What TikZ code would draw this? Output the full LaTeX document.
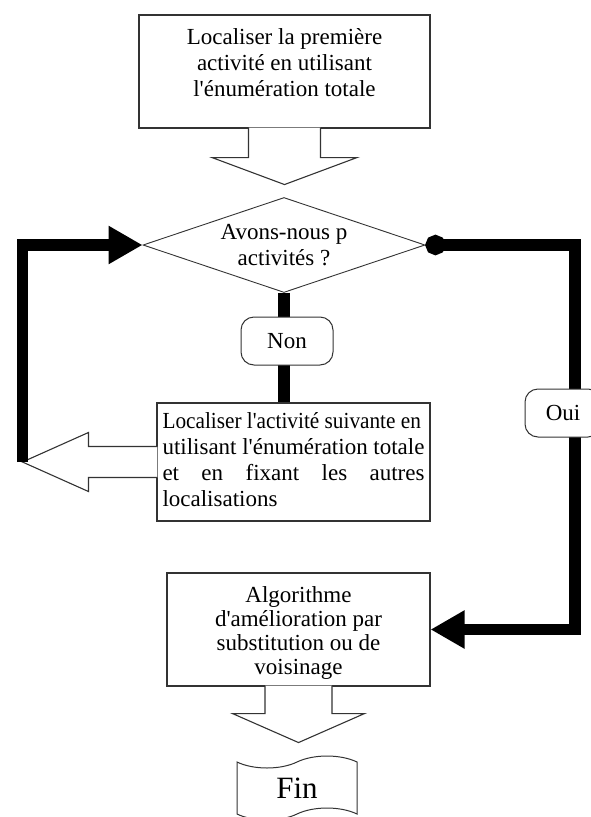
\documentclass[tikz,border=0pt]{standalone}
\usepackage{fontspec}
\setmainfont{Liberation Serif}[Ligatures=TeXOff]
\usepackage{graphicx}
\usetikzlibrary{shapes.geometric,shapes.symbols,arrows.meta,calc}
\tikzset{
  box/.style={draw=black!80, line width=1.1pt, fill=white, inner sep=0pt},
  hollow/.style={draw=black!80, line width=1.1pt, fill=white},
  thick line/.style={line width=11.5pt},
  flow/.style={thick line, -{Triangle[length=34pt,width=36pt]}},
  answer/.style={draw=black!80, line width=1pt, fill=white, rounded corners=13pt,
    minimum height=48pt, inner sep=0pt},
}
% first line height / last line depth
\newcommand{\toph}[1]{\rule{0pt}{#1}}
\newcommand{\botd}[1]{\rule[-#1]{0pt}{#1}}

\begin{document}
\begin{tikzpicture}[x=1pt,y=-1pt,
    every node/.append style={font=\fontsize{23}{25.5}\selectfont}]
  \useasboundingbox (0,0) rectangle (590,817);

  \node[box,minimum width=291pt,minimum height=113pt,align=center,
    font=\fontsize{23}{26}\selectfont] (loc1) at (284.5,71.5)
    {\toph{18pt}Localiser la première\\activité en utilisant\\l'énumération totale\botd{21pt}};
  \node[diamond,aspect=2.97,draw=black!80,line width=0.9pt,fill=white,inner sep=0pt,
    minimum width=282pt,minimum height=95pt,align=center] (test) at (284,245)
    {Avons-nous p\\activités ?};
  \node[box,minimum width=273pt,minimum height=118pt,align=left,
    font=\fontsize{23}{25.7}\selectfont] (loc2) at (293.5,462)
    {\toph{17pt}\makebox[262pt][l]{\scalebox{0.925}[1]{Localiser l'activité suivante en}}\\
     \makebox[262pt][s]{utilisant\hfill l'énumération\hfill totale}\\
     \makebox[262pt][s]{et\hfill en\hfill fixant\hfill les\hfill autres}\\
     \makebox[262pt][l]{localisations}\botd{6pt}};
  \node[box,minimum width=263pt,minimum height=113pt,align=center,
    font=\fontsize{23}{24.3}\selectfont] (alg) at (298.5,629.5)
    {\toph{24.5pt}Algorithme\\d'amélioration par\\substitution ou de\\voisinage\botd{6.5pt}};
  \node[tape,draw=black!80,line width=1pt,fill=white,minimum width=120pt,minimum height=64pt,
    tape bend height=12pt,font=\fontsize{31}{31}\selectfont] (fin) at (297,788) {Fin};

  % block arrows
  \draw[hollow] ($(loc1.south)+(-36,-1)$) -- ++(0,30) -- ++(-36.5,0) -- ($(loc1.south)+(0,56)$)
    -- ($(loc1.south)+(72.5,29)$) -- ++(-36.5,0) -- ($(loc1.south)+(36,-1)$);
  \draw[hollow] ($(loc2.west)+(1,-15.5)$) -- ++(-69,0) -- ++(0,-14) -- ($(loc2.west)+(-134,0)$)
    -- ($(loc2.west)+(-68,29.5)$) -- ++(0,-14) -- ($(loc2.west)+(1,15.5)$);
  \coordinate (back) at ($(loc2.west)+(-134,0)$);
  \draw[hollow] ($(alg.south)+(-33.5,-1)$) -- ++(0,28) -- ++(-32.5,0) -- ($(alg.south)+(0,56)$)
    -- ($(alg.south)+(66,27)$) -- ++(-32.5,0) -- ($(alg.south)+(33.5,-1)$);

  % connectors
  \draw[flow] (back) |- (test.west);
  \draw[thick line,{Circle[length=20pt]}-{Triangle[length=34pt,width=36pt]}]
    (test.east) -| (575,629.5) -- (alg.east);
  \draw[thick line] (test.south) -- (test.south |- loc2.north);

  \node[answer,minimum width=92pt] (non) at (287,341) {Non};
  \node[answer,minimum width=76pt] (oui) at (563,413) {Oui};
\end{tikzpicture}
\end{document}
